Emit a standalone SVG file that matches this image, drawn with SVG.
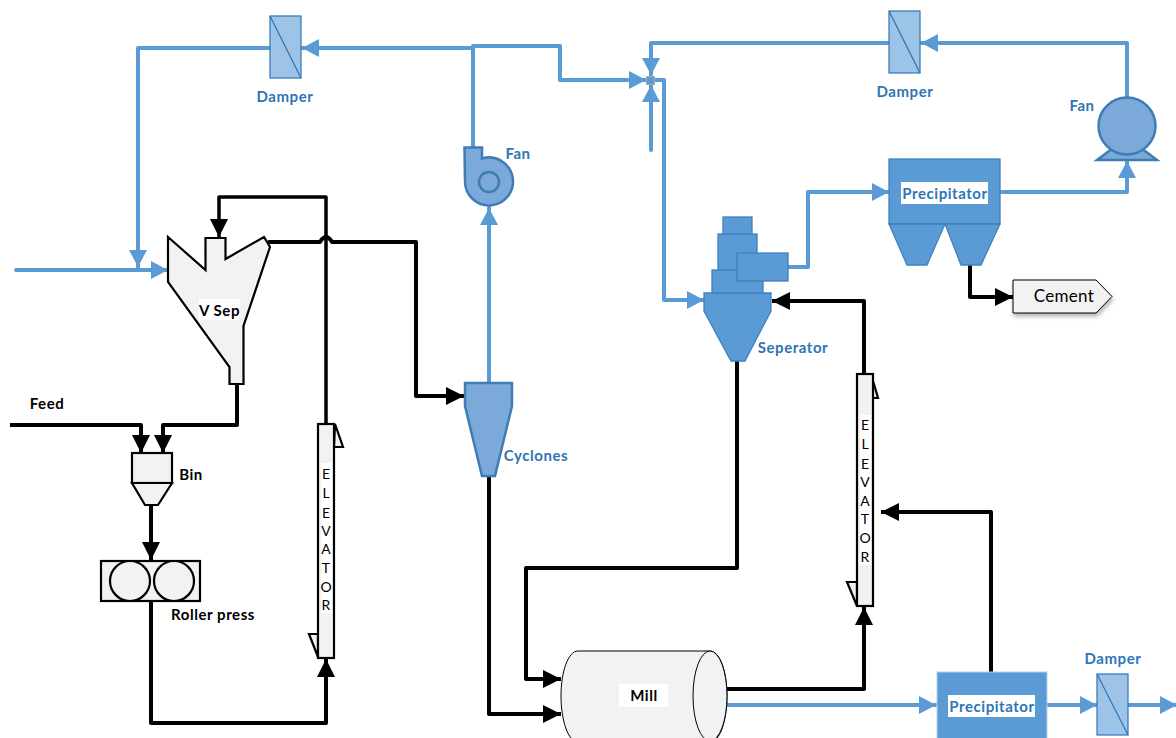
<svg xmlns="http://www.w3.org/2000/svg" width="1176" height="738" viewBox="0 0 1176 738">
<style>
.b{fill:none;stroke:#5b9bd5;stroke-width:4;stroke-linejoin:round;stroke-linecap:round;marker-end:url(#ab)}
.k{fill:none;stroke:#000;stroke-width:4;stroke-linejoin:round;marker-end:url(#ak)}
.g{fill:#f2f2f2;stroke:#000;stroke-width:2.200}
.bl{fill:#5b9bd5;stroke:#3f80bd;stroke-width:1.300}
.mb{fill:#7ba9da;stroke:#3f7cb4;stroke-width:2.500}
.d{fill:#9dc3e6;stroke:#2e75b6;stroke-width:1.200}
text{font-family:Lato,"Liberation Sans",sans-serif;font-size:15px;letter-spacing:.55px;font-weight:700;text-anchor:middle}
.tb{fill:#2e75b6}
.tk{fill:#000}
.lt{font-weight:400;font-size:14px;letter-spacing:0}
</style>
<defs>
<marker id="ab" markerUnits="userSpaceOnUse" markerWidth="17" markerHeight="18" refX="17" refY="9" orient="auto"><path d="M0,0L17,9L0,18Z" fill="#5b9bd5"/></marker>
<marker id="ak" markerUnits="userSpaceOnUse" markerWidth="18" markerHeight="18" refX="18" refY="9" orient="auto"><path d="M0,0L18,9L0,18Z" fill="#000"/></marker>
<filter id="sh" x="-10%" y="-10%" width="125%" height="140%"><feDropShadow dx="1" dy="3" stdDeviation="2" flood-color="#000" flood-opacity=".3"/></filter>
</defs>
<g id="connectors">
<path class="b" d="M270,48H138V267"/>
<path class="b" d="M16,270H168"/>
<path class="b" d="M473,147V46H560V80H646"/>
<path class="b" d="M473,48H302"/>
<path class="b" d="M489,382V208"/>
<path class="b" d="M889,43H651V75"/>
<path class="b" d="M651,150V85"/>
<path class="b" d="M654,80H664V300H704"/>
<path class="b" d="M1127,97V43H921"/>
<path class="b" d="M1000,192H1127V161"/>
<path class="b" d="M788,267H808V192H889"/>
<path class="b" d="M727,705H936"/>
<path class="b" d="M1047,705H1097"/>
<path class="b" d="M1128,705H1177"/>
<path class="k" style="stroke-width:3.500" d="M326,424V197H219V237"/>
<path class="k" d="M268,242H320Q326,232 332,242H416V396H464"/>
<path class="k" d="M237,384V425H163V453"/>
<path class="k" d="M10,425H141V453"/>
<path class="k" d="M151,505V560"/>
<path class="k" d="M151,601V723H326V659"/>
<path class="k" d="M489,476V714H561"/>
<path class="k" d="M737,361V568H526V679H561"/>
<path class="k" d="M727,689H864V607"/>
<path class="k" d="M864,374V301H772"/>
<path class="k" d="M991,672V512H881"/>
<path class="k" d="M970,265V297H1013"/>
</g>
<g id="vsep"><polygon class="g" points="168,237 205.500,270 205.500,238 225.500,238 225.500,259 264,237 270,247 243.500,326 243.500,384 229.500,384 229.500,367 168,282"/><rect x="199" y="299" width="41" height="21" fill="#fff"/><text class="tk" x="219.500" y="316">V Sep</text></g>
<g id="feed"><text class="tk" x="47" y="409">Feed</text></g>
<g id="bin"><rect class="g" x="132" y="453" width="40" height="30"/><polygon class="g" points="132,483 172,483 158,505 145,505"/><text class="tk" x="191" y="480">Bin</text></g>
<g id="roller-press"><rect class="g" x="101" y="561" width="99" height="40"/><circle class="g" cx="130" cy="581" r="20"/><circle class="g" cx="174" cy="581" r="20"/><text class="tk" x="213" y="620">Roller press</text></g>
<g id="elevator-1"><polygon class="g" points="335,424 343,447 334,447"/><polygon class="g" points="309,634 318,634 318,657"/><rect class="g" x="318" y="424" width="16" height="234"/><rect x="321" y="463" width="11" height="150" fill="#fff"/>
<text class="tk lt" x="326" y="479">E</text><text class="tk lt" x="326" y="498">L</text><text class="tk lt" x="326" y="518">E</text><text class="tk lt" x="326" y="536">V</text><text class="tk lt" x="326" y="554">A</text><text class="tk lt" x="326" y="573">T</text><text class="tk lt" x="326" y="592">O</text><text class="tk lt" x="326" y="610">R</text></g>
<g id="elevator-2"><polygon class="g" points="871,374 878,398 873,398"/><polygon class="g" points="847,582 857,582 857,606"/><rect class="g" x="857" y="374" width="16" height="232"/><rect x="860" y="415" width="11" height="150" fill="#fff"/>
<text class="tk lt" x="865" y="430">E</text><text class="tk lt" x="865" y="449">L</text><text class="tk lt" x="865" y="469">E</text><text class="tk lt" x="865" y="487">V</text><text class="tk lt" x="865" y="506">A</text><text class="tk lt" x="865" y="524">T</text><text class="tk lt" x="865" y="543">O</text><text class="tk lt" x="865" y="562">R</text></g>
<g id="damper-1"><rect class="d" x="270" y="16" width="31" height="62"/><path class="d" d="M270,16L301,78"/><text class="tb" x="285" y="102">Damper</text></g>
<g id="damper-2"><rect class="d" x="889" y="11" width="31" height="62"/><path class="d" d="M889,11L920,73"/><text class="tb" x="905" y="97">Damper</text></g>
<g id="damper-3"><rect class="d" x="1097" y="674" width="31" height="61"/><path class="d" d="M1097,674L1128,735"/><text class="tb" x="1113" y="664">Damper</text></g>
<g id="fan-1"><path class="mb" d="M464.500,147.500H482V158.500A24,24 0 1 1 465,182Z"/><circle class="mb" cx="489" cy="182" r="10"/><text class="tb" x="518" y="159">Fan</text></g>
<g id="fan-2"><polygon class="mb" points="1097,160 1157,160 1141,148 1113,148"/><circle class="mb" cx="1127" cy="126" r="28.500"/><text class="tb" x="1082" y="111">Fan</text></g>
<g id="mixer"><rect x="646.500" y="76.500" width="8" height="8" fill="#5b9bd5" stroke="#aaa"/></g>
<g id="cyclones"><polygon class="mb" points="465,383 512,383 512,406 495,476 482,476 465,406"/><text class="tb" x="536" y="461">Cyclones</text></g>
<g id="separator"><rect class="bl" x="723" y="217" width="29" height="17"/><rect class="bl" x="718" y="234" width="39" height="37"/><rect class="bl" x="712" y="270" width="51" height="24"/><rect class="bl" x="737" y="253" width="51" height="28"/><polygon class="bl" points="704,293 771,293 771,311 745,361 731,361 704,311"/><text class="tb" x="793" y="353">Seperator</text></g>
<g id="precipitator-1"><rect class="bl" x="889" y="159" width="111" height="65"/><polygon class="bl" points="889,224 945,224 927,265 907,265"/><polygon class="bl" points="945,224 1000,224 981,265 961,265"/><rect x="901" y="182" width="87" height="22" fill="#fff"/><text class="tb" x="945" y="199">Precipitator</text></g>
<g id="cement"><polygon points="1013,280 1096,280 1112,296.500 1096,313 1013,313" fill="#f2f2f2" stroke="#000" stroke-width="1" filter="url(#sh)"/><text class="tk" style="font-weight:400;font-size:17px;letter-spacing:.3px" x="1064" y="302">Cement</text></g>
<g id="mill"><path d="M578,651H710C720,651 727,672 727,696S720,742 710,742H578C568,742 561,720 561,696S568,651 578,651Z" fill="#f2f2f2" stroke="#000"/><ellipse cx="710" cy="696" rx="17" ry="45" fill="#f2f2f2" stroke="#000"/><rect x="619" y="684" width="49" height="23" fill="#fff"/><text class="tk" x="644" y="701">Mill</text></g>
<g id="precipitator-2"><rect x="937" y="672" width="110" height="70" fill="#5b9bd5" stroke="#bcd0e6"/><rect x="948" y="695" width="87" height="22" fill="#fff"/><text class="tb" x="992" y="712">Precipitator</text></g>
</svg>
